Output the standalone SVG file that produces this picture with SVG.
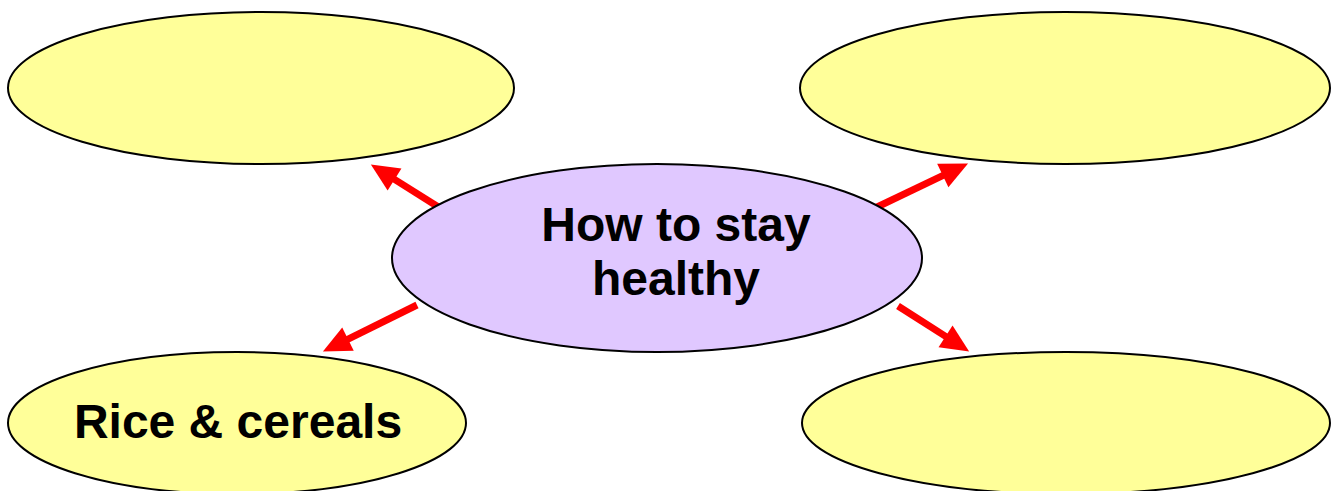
<svg xmlns="http://www.w3.org/2000/svg" width="1333" height="491" viewBox="0 0 1333 491">
<style>
.y{fill:#FFFF99;stroke:#000;stroke-width:2}
.p{fill:#E0C8FF;stroke:#000;stroke-width:2}
.t{font-family:"Liberation Sans",Arial,sans-serif;font-weight:bold;font-size:48px;fill:#000;text-anchor:middle}
.c{stroke:#FF0000;stroke-width:7;fill:none;marker-end:url(#ah)}
</style>
<defs>
<marker id="ah" markerUnits="userSpaceOnUse" markerWidth="30" markerHeight="28" refX="1" refY="14" orient="auto" overflow="visible">
<path d="M0,1 L28,14 L0,27 z" fill="#FF0000"/>
</marker>
</defs>
<rect width="1333" height="491" fill="#fff"/>
<g id="n-topleft"><ellipse class="y" cx="261" cy="88" rx="253" ry="76"/></g>
<g id="n-topright"><ellipse class="y" cx="1065" cy="88" rx="265" ry="76"/></g>
<g id="n-bottomleft"><ellipse class="y" cx="237" cy="423" rx="229" ry="71"/><text class="t" x="238" y="438">Rice &amp; cereals</text></g>
<g id="n-bottomright"><ellipse class="y" cx="1066" cy="423" rx="264" ry="71"/></g>
<g id="connectors">
<line class="c" x1="440" y1="208" x2="393.7" y2="178.9"/>
<line class="c" x1="875" y1="208" x2="943.7" y2="175.1"/>
<line class="c" x1="417" y1="305" x2="347.1" y2="339.6"/>
<line class="c" x1="898" y1="306" x2="946.4" y2="336.9"/>
</g>
<g id="n-center"><ellipse class="p" cx="657" cy="258" rx="265" ry="94"/><text class="t" x="676" y="241">How to stay</text><text class="t" x="676" y="295">healthy</text></g>
</svg>
